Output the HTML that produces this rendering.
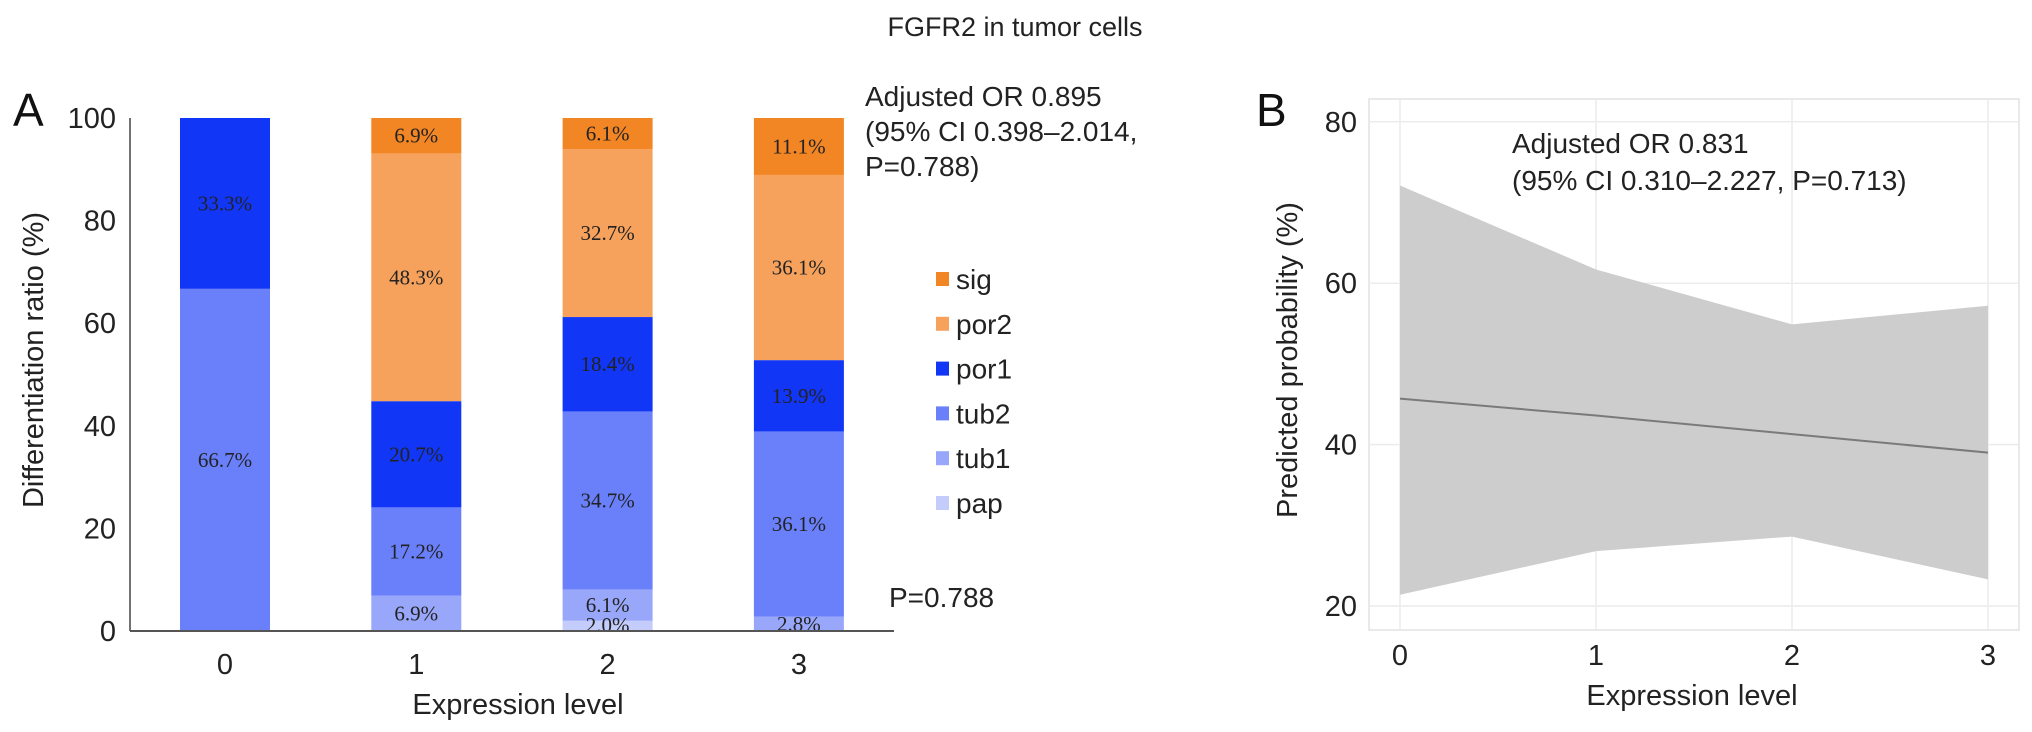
<!DOCTYPE html>
<html><head><meta charset="utf-8"><style>
html,body{margin:0;padding:0;background:#fff;}
svg{display:block;font-family:"Liberation Sans",sans-serif;}
</style></head><body>
<svg id="fig" width="2032" height="732" viewBox="0 0 2032 732" xmlns="http://www.w3.org/2000/svg">
<text x="1015" y="36" font-size="27" text-anchor="middle" fill="#222">FGFR2 in tumor cells</text>
<g id="pa"></g>
<g id="pb"></g>
</svg>
<script>
const NS="http://www.w3.org/2000/svg";
function mk(parent,tag,attrs,text){const e=document.createElementNS(NS,tag);for(const k in attrs)e.setAttribute(k,attrs[k]);if(text!==undefined)e.textContent=text;parent.appendChild(e);return e;}

// ---------- Panel A data ----------
const catsA=["0","1","2","3"];
const seriesNames=["pap","tub1","tub2","por1","por2","sig"];
const pap=[0,0,2.0,0];
const tub1=[0,6.9,6.1,2.8];
const tub2=[66.7,17.2,34.7,36.1];
const por1=[33.3,20.7,18.4,13.9];
const por2=[0,48.3,32.7,36.1];
const sig=[0,6.9,6.1,11.1];
const yTicksA=[0,20,40,60,80,100];
const colors={pap:"#c4ccfb",tub1:"#98a7fa",tub2:"#6a80fb",por1:"#1236f5",por2:"#f6a25c",sig:"#f28524"};
const seriesVals={pap,tub1,tub2,por1,por2,sig};

const A=document.getElementById('pa');
const ayA=v=>631-v*5.13;
const axA=i=>225+i*191.3;
const bw=90;

let e;
e=mk(A,'text',{x:13,y:126,'font-size':46,fill:'#111'},'A');



// bars
catsA.forEach((c,i)=>{
  let cum=0;
  seriesNames.forEach(s=>{
    const v=seriesVals[s][i];
    if(v<=0)return;
    const y0=ayA(cum),y1=ayA(cum+v);
    const r=mk(A,'rect',{x:axA(i)-bw/2,y:y1,width:bw,height:y0-y1,fill:colors[s]});
    
    
    cum+=v;
  });
});
// bar labels
catsA.forEach((c,i)=>{
  let cum=0;
  seriesNames.forEach(s=>{
    const v=seriesVals[s][i];
    if(v<=0)return;
    const cy=Math.min(ayA(cum+v/2),625);
    const t=mk(A,'text',{x:axA(i),y:cy+7,'font-size':21,'text-anchor':'middle',fill:'#222','font-family':'"Liberation Serif",serif'},v.toFixed(1)+'%');
    
    
    cum+=v;
  });
});
// axes
e=mk(A,'line',{x1:130,y1:118,x2:130,y2:631,stroke:'#444','stroke-width':1.5});


e=mk(A,'line',{x1:130,y1:631,x2:894,y2:631,stroke:'#555','stroke-width':2});


yTicksA.forEach(v=>{
  const t=mk(A,'text',{x:116,y:ayA(v)+10,'font-size':29,'text-anchor':'end',fill:'#222'},String(v));
  
  
});
catsA.forEach((c,i)=>{
  const t=mk(A,'text',{x:axA(i),y:674,'font-size':29,'text-anchor':'middle',fill:'#222'},c);
  
  
});
e=mk(A,'text',{x:518,y:714,'font-size':29,'text-anchor':'middle',fill:'#222'},'Expression level');


e=mk(A,'text',{x:0,y:0,'font-size':29,'text-anchor':'middle',fill:'#222',transform:'translate(43,360) rotate(-90)'},'Differentiation ratio (%)');


// legend
const legendOrder=["sig","por2","por1","tub2","tub1","pap"];
legendOrder.forEach((s,k)=>{
  const cy=279+k*44.8;
  const r=mk(A,'rect',{x:936,y:cy-7,width:13,height:14,fill:colors[s]});
  
  
  const t=mk(A,'text',{x:956,y:cy+10,'font-size':28,fill:'#222'},s);
  
  
});
const annA=["Adjusted OR 0.895","(95% CI 0.398\u20132.014,","P=0.788)"];
annA.forEach((l,k)=>{
  const t=mk(A,'text',{x:865,y:106+k*35,'font-size':28,fill:'#222'},l);
  
  
});
e=mk(A,'text',{x:889,y:607,'font-size':28,fill:'#222'},'P=0.788');



// ---------- Panel B data ----------
const catsB=[0,1,2,3];
const fitB=[45.7,43.6,41.3,39.0];
const upperB=[72.1,61.7,54.9,57.2];
const lowerB=[21.4,26.8,28.6,23.3];
const yTicksB=[20,40,60,80];

const B=document.getElementById('pb');
const axB=v=>1400+v*196;
const ayB=v=>606-(v-20)*8.07;

e=mk(B,'rect',{x:1369,y:99,width:650,height:531,fill:'#fff',stroke:'#e2e2e2','stroke-width':1.5});


yTicksB.forEach(v=>{
  const l=mk(B,'line',{x1:1369,x2:2019,y1:ayB(v),y2:ayB(v),stroke:'#ececec','stroke-width':1.5});
  
  
});
catsB.forEach(c=>{
  const l=mk(B,'line',{x1:axB(c),x2:axB(c),y1:99,y2:630,stroke:'#ececec','stroke-width':1.5});
  
  
});
let pts=catsB.map((c,i)=>axB(c)+','+ayB(upperB[i]));
pts=pts.concat(catsB.slice().reverse().map((c,j)=>{const i=catsB.length-1-j;return axB(c)+','+ayB(lowerB[i]);}));
e=mk(B,'polygon',{points:pts.join(' '),fill:'#cdcdcd'});


e=mk(B,'polyline',{points:catsB.map((c,i)=>axB(c)+','+ayB(fitB[i])).join(' '),fill:'none',stroke:'#7a7a7a','stroke-width':2});


yTicksB.forEach(v=>{
  const t=mk(B,'text',{x:1357,y:ayB(v)+10,'font-size':29,'text-anchor':'end',fill:'#222'},String(v));
  
  
});
catsB.forEach(c=>{
  const t=mk(B,'text',{x:axB(c),y:665,'font-size':29,'text-anchor':'middle',fill:'#222'},String(c));
  
  
});
e=mk(B,'text',{x:1692,y:705,'font-size':29,'text-anchor':'middle',fill:'#222'},'Expression level');


e=mk(B,'text',{x:0,y:0,'font-size':29,'text-anchor':'middle',fill:'#222',transform:'translate(1297,360) rotate(-90)'},'Predicted probability (%)');


e=mk(B,'text',{x:1256,y:126,'font-size':46,fill:'#111'},'B');


const annB=["Adjusted OR 0.831","(95% CI 0.310\u20132.227, P=0.713)"];
annB.forEach((l,k)=>{
  const t=mk(B,'text',{x:1512,y:153+k*37,'font-size':28,fill:'#222'},l);
  
  
});
</script>
</body></html>
